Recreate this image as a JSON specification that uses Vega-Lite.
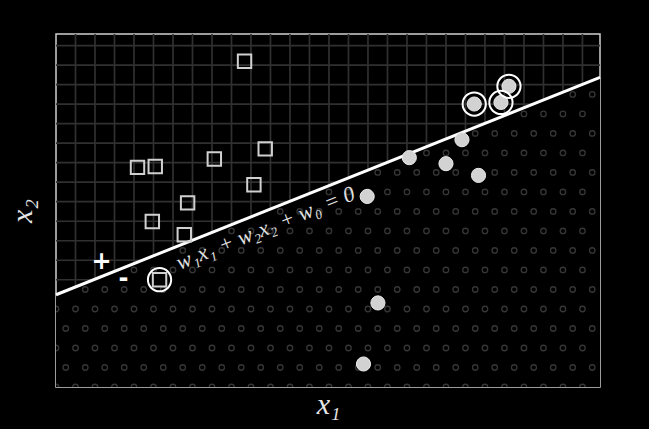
{
  "$schema": "https://vega.github.io/schema/vega-lite/v6.json",
  "width": 544,
  "height": 353,
  "autosize": {"type": "none"},
  "padding": {"left": 56, "top": 34, "right": 49, "bottom": 42},
  "background": "#000000",
  "config": {
    "view": {"fill": "#000000", "stroke": "#d0d0d0", "strokeWidth": 1.5}
  },
  "datasets": {
    "pts": [
      {"x": 9.67, "y": 16.70, "cls": "sq", "sv": false},
      {"x": 10.73, "y": 12.21, "cls": "sq", "sv": false},
      {"x": 4.18, "y": 11.26, "cls": "sq", "sv": false},
      {"x": 5.09, "y": 11.31, "cls": "sq", "sv": false},
      {"x": 8.12, "y": 11.69, "cls": "sq", "sv": false},
      {"x": 10.15, "y": 10.37, "cls": "sq", "sv": false},
      {"x": 6.75, "y": 9.44, "cls": "sq", "sv": false},
      {"x": 4.94, "y": 8.49, "cls": "sq", "sv": false},
      {"x": 6.58, "y": 7.81, "cls": "sq", "sv": false},
      {"x": 5.31, "y": 5.50, "cls": "sq", "sv": true},
      {"x": 23.23, "y": 15.42, "cls": "ci", "sv": true},
      {"x": 22.82, "y": 14.59, "cls": "ci", "sv": true},
      {"x": 21.45, "y": 14.51, "cls": "ci", "sv": true},
      {"x": 20.82, "y": 12.68, "cls": "ci", "sv": false},
      {"x": 18.12, "y": 11.76, "cls": "ci", "sv": false},
      {"x": 20.0, "y": 11.45, "cls": "ci", "sv": false},
      {"x": 21.67, "y": 10.85, "cls": "ci", "sv": false},
      {"x": 15.96, "y": 9.77, "cls": "ci", "sv": false},
      {"x": 16.51, "y": 4.31, "cls": "ci", "sv": false},
      {"x": 15.77, "y": 1.18, "cls": "ci", "sv": false}
    ],
    "boundary": [
      {"x": 0, "y": 4.73, "x2": 27.9, "y2": 15.88}
    ],
    "boundaryPts": [
      {"x": 0, "y": 4.73},
      {"x": 27.9, "y": 15.88}
    ],
    "vgrid": [
      {"gx": 1}, {"gx": 2}, {"gx": 3}, {"gx": 4}, {"gx": 5}, {"gx": 6}, {"gx": 7}, {"gx": 8}, {"gx": 9},
      {"gx": 10}, {"gx": 11}, {"gx": 12}, {"gx": 13}, {"gx": 14}, {"gx": 15}, {"gx": 16}, {"gx": 17},
      {"gx": 18}, {"gx": 19}, {"gx": 20}, {"gx": 21}, {"gx": 22}, {"gx": 23}, {"gx": 24}, {"gx": 25},
      {"gx": 26}, {"gx": 27}
    ],
    "hgrid": [
      {"gy": 0.5}, {"gy": 1.5}, {"gy": 2.5}, {"gy": 3.5}, {"gy": 4.5}, {"gy": 5.5}, {"gy": 6.5},
      {"gy": 7.5}, {"gy": 8.5}, {"gy": 9.5}, {"gy": 10.5}, {"gy": 11.5}, {"gy": 12.5}, {"gy": 13.5},
      {"gy": 14.5}, {"gy": 15.5}, {"gy": 16.5}, {"gy": 17.5}
    ],
    "dotrows": [
      {"r": 0, "xs": [0,1,2,3,4,5,6,7,8,9,10,11,12,13,14,15,16,17,18,19,20,21,22,23,24,25,26,27]},
      {"r": 1, "xs": [0.5,1.5,2.5,3.5,4.5,5.5,6.5,7.5,8.5,9.5,10.5,11.5,12.5,13.5,14.5,15.5,16.5,17.5,18.5,19.5,20.5,21.5,22.5,23.5,24.5,25.5,26.5,27.5]},
      {"r": 2, "xs": [0,1,2,3,4,5,6,7,8,9,10,11,12,13,14,15,16,17,18,19,20,21,22,23,24,25,26,27]},
      {"r": 3, "xs": [0.5,1.5,2.5,3.5,4.5,5.5,6.5,7.5,8.5,9.5,10.5,11.5,12.5,13.5,14.5,15.5,16.5,17.5,18.5,19.5,20.5,21.5,22.5,23.5,24.5,25.5,26.5,27.5]},
      {"r": 4, "xs": [0,1,2,3,4,5,6,7,8,9,10,11,12,13,14,15,16,17,18,19,20,21,22,23,24,25,26,27]},
      {"r": 5, "xs": [0.5,1.5,2.5,3.5,4.5,5.5,6.5,7.5,8.5,9.5,10.5,11.5,12.5,13.5,14.5,15.5,16.5,17.5,18.5,19.5,20.5,21.5,22.5,23.5,24.5,25.5,26.5,27.5]},
      {"r": 6, "xs": [0,1,2,3,4,5,6,7,8,9,10,11,12,13,14,15,16,17,18,19,20,21,22,23,24,25,26,27]},
      {"r": 7, "xs": [0.5,1.5,2.5,3.5,4.5,5.5,6.5,7.5,8.5,9.5,10.5,11.5,12.5,13.5,14.5,15.5,16.5,17.5,18.5,19.5,20.5,21.5,22.5,23.5,24.5,25.5,26.5,27.5]},
      {"r": 8, "xs": [0,1,2,3,4,5,6,7,8,9,10,11,12,13,14,15,16,17,18,19,20,21,22,23,24,25,26,27]},
      {"r": 9, "xs": [0.5,1.5,2.5,3.5,4.5,5.5,6.5,7.5,8.5,9.5,10.5,11.5,12.5,13.5,14.5,15.5,16.5,17.5,18.5,19.5,20.5,21.5,22.5,23.5,24.5,25.5,26.5,27.5]},
      {"r": 10, "xs": [0,1,2,3,4,5,6,7,8,9,10,11,12,13,14,15,16,17,18,19,20,21,22,23,24,25,26,27]},
      {"r": 11, "xs": [0.5,1.5,2.5,3.5,4.5,5.5,6.5,7.5,8.5,9.5,10.5,11.5,12.5,13.5,14.5,15.5,16.5,17.5,18.5,19.5,20.5,21.5,22.5,23.5,24.5,25.5,26.5,27.5]},
      {"r": 12, "xs": [0,1,2,3,4,5,6,7,8,9,10,11,12,13,14,15,16,17,18,19,20,21,22,23,24,25,26,27]},
      {"r": 13, "xs": [0.5,1.5,2.5,3.5,4.5,5.5,6.5,7.5,8.5,9.5,10.5,11.5,12.5,13.5,14.5,15.5,16.5,17.5,18.5,19.5,20.5,21.5,22.5,23.5,24.5,25.5,26.5,27.5]},
      {"r": 14, "xs": [0,1,2,3,4,5,6,7,8,9,10,11,12,13,14,15,16,17,18,19,20,21,22,23,24,25,26,27]},
      {"r": 15, "xs": [0.5,1.5,2.5,3.5,4.5,5.5,6.5,7.5,8.5,9.5,10.5,11.5,12.5,13.5,14.5,15.5,16.5,17.5,18.5,19.5,20.5,21.5,22.5,23.5,24.5,25.5,26.5,27.5]}
    ],
    "labels": [
      {"x": 10.75, "y": 8.15, "t": "w₁x₁ + w₂x₂ + w₀ = 0", "kind": "eq"},
      {"x": 2.33, "y": 6.43, "t": "+", "kind": "sign"},
      {"x": 3.46, "y": 5.56, "t": "-", "kind": "sign"}
    ]
  },
  "encoding": {
    "x": {
      "field": "x", "type": "quantitative",
      "scale": {"domain": [0, 27.9], "nice": false, "zero": false},
      "axis": {
        "title": "x₁", "domain": false, "ticks": false, "labels": false, "grid": false,
        "titleFont": "Liberation Serif", "titleFontStyle": "italic", "titleFontWeight": "normal",
        "titleFontSize": 30, "titleColor": "#e6e6e6", "titleBaseline": "alphabetic", "titleY": 26
      }
    },
    "y": {
      "field": "y", "type": "quantitative",
      "scale": {"domain": [0, 18.1], "nice": false, "zero": false},
      "axis": {
        "title": "x₂", "domain": false, "ticks": false, "labels": false, "grid": false,
        "titleFont": "Liberation Serif", "titleFontStyle": "italic", "titleFontWeight": "normal",
        "titleFontSize": 30, "titleColor": "#e6e6e6", "titleBaseline": "alphabetic", "titleX": -25
      }
    }
  },
  "layer": [
    {
      "data": {"name": "vgrid"},
      "mark": {"type": "rule", "stroke": "#303030", "strokeWidth": 1.7},
      "encoding": {"x": {"field": "gx", "type": "quantitative"}, "y": null}
    },
    {
      "data": {"name": "hgrid"},
      "mark": {"type": "rule", "stroke": "#303030", "strokeWidth": 1.7},
      "encoding": {"y": {"field": "gy", "type": "quantitative"}, "x": null}
    },
    {
      "data": {"name": "boundaryPts"},
      "mark": {"type": "area", "fill": "#000000", "opacity": 1},
      "encoding": {"y2": {"datum": 0}}
    },
    {
      "data": {"name": "dotrows"},
      "transform": [
        {"flatten": ["xs"], "as": ["cx"]},
        {"filter": "datum.r < 4.73 + 0.3996 * datum.cx"}
      ],
      "mark": {"type": "point", "shape": "circle", "filled": false, "stroke": "#363636", "strokeWidth": 1.3, "size": 30, "opacity": 1, "clip": true},
      "encoding": {"x": {"field": "cx", "type": "quantitative"}, "y": {"field": "r", "type": "quantitative"}}
    },
    {
      "data": {"name": "boundary"},
      "mark": {"type": "rule", "stroke": "#ffffff", "strokeWidth": 3},
      "encoding": {"x2": {"field": "x2"}, "y2": {"field": "y2"}}
    },
    {
      "data": {"name": "labels"},
      "transform": [{"filter": "datum.kind == 'eq'"}],
      "mark": {"type": "text", "angle": -21.8, "font": "Liberation Serif", "fontStyle": "italic", "fontSize": 22, "color": "#e0e0e0", "align": "center", "baseline": "middle"},
      "encoding": {"text": {"field": "t"}}
    },
    {
      "data": {"name": "labels"},
      "transform": [{"filter": "datum.kind == 'sign'"}],
      "mark": {"type": "text", "font": "DejaVu Sans", "fontWeight": "bold", "fontSize": 24, "color": "#ffffff", "align": "center", "baseline": "middle"},
      "encoding": {"text": {"field": "t"}}
    },
    {
      "data": {"name": "pts"},
      "transform": [{"filter": "datum.cls == 'sq'"}],
      "mark": {"type": "point", "shape": "square", "filled": false, "stroke": "#d0d0d0", "strokeWidth": 2, "size": 180, "opacity": 1}
    },
    {
      "data": {"name": "pts"},
      "transform": [{"filter": "datum.cls == 'ci'"}],
      "mark": {"type": "point", "shape": "circle", "filled": true, "fill": "#d2d2d2", "stroke": "#ebebeb", "strokeWidth": 1, "size": 200, "opacity": 1}
    },
    {
      "data": {"name": "pts"},
      "transform": [{"filter": "datum.sv"}],
      "mark": {"type": "point", "shape": "circle", "filled": false, "stroke": "#ffffff", "strokeWidth": 2, "size": 540, "opacity": 1}
    }
  ]
}
